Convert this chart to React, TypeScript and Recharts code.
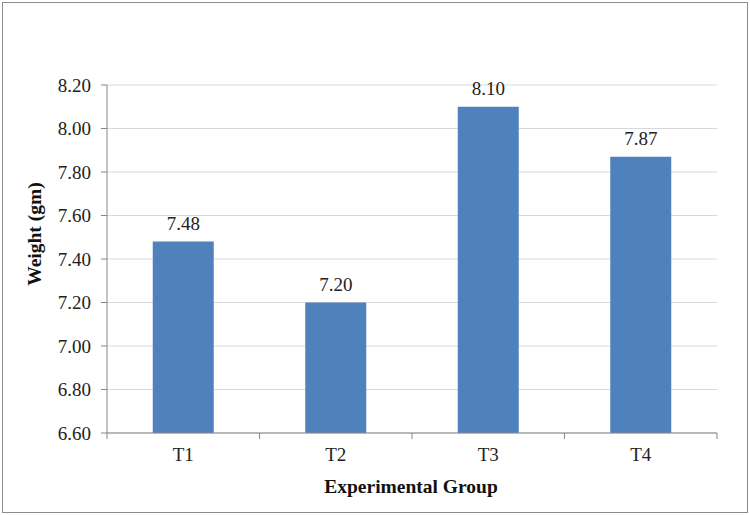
import { Bar, BarChart, CartesianGrid, LabelList, XAxis, YAxis } from "recharts";

const groups = ["T1", "T2", "T3", "T4"];
const weights = [7.48, 7.2, 8.1, 7.87];
const yTicks = [6.6, 6.8, 7.0, 7.2, 7.4, 7.6, 7.8, 8.0, 8.2];

const data = groups.map((g, i) => ({ group: g, weight: weights[i] }));

const FONT = "Liberation Serif";
const AXIS = "#868686";

// category ticks sit between the bars, like the Excel original
function GroupTick(props: any) {
  const { x, y, payload, index, visibleTicksCount } = props;
  const half = payload.offset || 0;
  const last = index === visibleTicksCount - 1;
  return (
    <g>
      <line x1={x - half} x2={x - half} y1={y - 8} y2={y - 2} stroke={AXIS} />
      {last && <line x1={x + half} x2={x + half} y1={y - 8} y2={y - 2} stroke={AXIS} />}
      <text x={x} y={y + 20} textAnchor="middle" fontFamily={FONT} fontSize={19} fill="#222">
        {payload.value}
      </text>
    </g>
  );
}

export default function App() {
  return (
    <div
      style={{
        position: "absolute",
        left: 0,
        top: 0,
        width: 750,
        height: 515,
        background: "#fff",
        fontFamily: FONT,
      }}
    >
      <div
        style={{
          position: "absolute",
          left: 2,
          top: 2,
          width: 746,
          height: 511,
          border: "1px solid #8c8c8c",
          boxSizing: "border-box",
        }}
      />
      <BarChart
        width={750}
        height={515}
        data={data}
        margin={{ top: 85, right: 33, bottom: 0, left: 0 }}
        barCategoryGap="30%"
        style={{ position: "absolute", left: 0, top: 0 }}
      >
        <CartesianGrid vertical={false} stroke="#d9d9d9" />
        <XAxis
          dataKey="group"
          height={82}
          axisLine={{ stroke: AXIS }}
          tickLine={false}
          tick={<GroupTick />}
          label={{
            content: () => (
              <text x={411} y={493} textAnchor="middle" fontFamily={FONT} fontSize={19.5} fontWeight="bold" fill="#111">
                Experimental Group
              </text>
            ),
          }}
        />
        <YAxis
          width={107}
          domain={[6.6, 8.2]}
          ticks={yTicks}
          interval={0}
          allowDataOverflow
          tickFormatter={(v: number) => v.toFixed(2)}
          axisLine={{ stroke: AXIS }}
          tickLine={{ stroke: AXIS }}
          tickSize={6}
          tickMargin={10}
          tick={{ fontFamily: FONT, fontSize: 19, fill: "#222" }}
          label={{
            content: () => (
              <text
                x={0}
                y={0}
                transform="translate(41 234) rotate(-90)"
                textAnchor="middle"
                fontFamily={FONT}
                fontSize={19.5}
                fontWeight="bold"
                fill="#111"
              >
                Weight (gm)
              </text>
            ),
          }}
        />
        <Bar dataKey="weight" fill="#4f81bd" isAnimationActive={false}>
          <LabelList
            dataKey="weight"
            position="top"
            offset={12}
            formatter={(v: any) => Number(v).toFixed(2)}
            fontFamily={FONT}
            fontSize={19}
            fill="#222"
          />
        </Bar>
      </BarChart>
    </div>
  );
}
